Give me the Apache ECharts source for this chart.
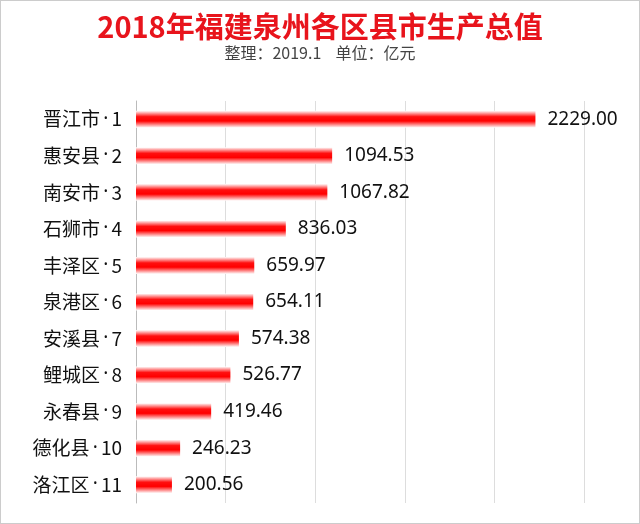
<!DOCTYPE html>
<html><head><meta charset="utf-8">
<script src="https://cdn.jsdelivr.net/npm/echarts@6/dist/echarts.min.js"></script>
<style>html,body{margin:0;background:#fff}#c{width:640px;height:524px;box-sizing:border-box;border:1px solid #ccc}</style>
</head><body><div id="c"></div>
<script>
var names = ['晋江市','惠安县','南安市','石狮市','丰泽区','泉港区','安溪县','鲤城区','永春县','德化县','洛江区'];
var ranks = ['1','2','3','4','5','6','7','8','9','10','11'];
var values = [2229.00, 1094.53, 1067.82, 836.03, 659.97, 654.11, 574.38, 526.77, 419.46, 246.23, 200.56];
var categories = names.map(function (n, i) { return n + '{d|\u2009·\u2009}' + ranks[i]; });

var chart = echarts.init(document.getElementById('c'));
chart.setOption({
    title: {
        text: '2018年福建泉州各区县市生产总值',
        subtext: '整理：2019.1    单位：亿元',
        left: 'center', top: 6, itemGap: 4,
        textStyle: {color: '#e8141c', fontSize: 29, fontWeight: 'bold', fontFamily: 'Noto Sans CJK SC'},
        subtextStyle: {color: '#444', fontSize: 16, fontFamily: 'Noto Sans CJK SC'}
    },
    grid: {left: 135, right: 55, top: 100, bottom: 20},
    xAxis: {
        type: 'value', min: 0, max: 2500, interval: 500,
        axisLabel: {show: false}, axisTick: {show: false}, axisLine: {show: false},
        splitLine: {lineStyle: {color: '#ddd'}}
    },
    yAxis: {
        type: 'category', inverse: true, data: categories,
        axisTick: {show: false},
        axisLine: {lineStyle: {color: '#bbb'}},
        axisLabel: {color: '#111', fontSize: 19, margin: 14, fontFamily: 'Noto Sans CJK SC',
            rich: {d: {fontSize: 19, fontFamily: 'Noto Sans', color: '#111'}}}
    },
    series: [{
        type: 'bar', data: values, barWidth: 17,
        itemStyle: {color: new echarts.graphic.LinearGradient(0, 0, 0, 1, [
            {offset: 0, color: '#ffffff'}, {offset: 0.35, color: '#ff1010'},
            {offset: 0.6, color: '#ff0000'}, {offset: 1, color: '#ffffff'}])},
        label: {show: true, position: 'right', distance: 12, color: '#111', fontSize: 19,
            fontFamily: 'Noto Sans', formatter: function (p) { return p.value.toFixed(2); }}
    }]
});
</script></body></html>
